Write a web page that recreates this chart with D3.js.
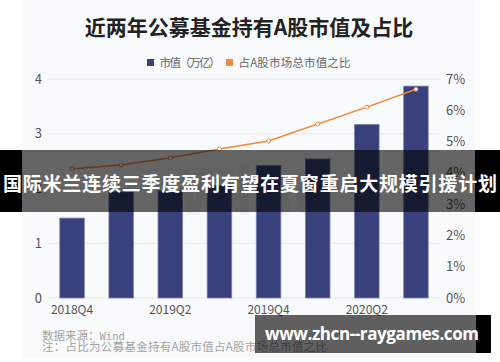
<!DOCTYPE html>
<html>
<head>
<meta charset="utf-8">
<script src="https://cdn.jsdelivr.net/npm/d3@7"></script>
<style>
  body { margin: 0; background: #fff; }
  svg { display: block; font-family: "Noto Sans CJK SC", "Noto Sans", sans-serif; }
</style>
</head>
<body>
<svg id="chart" width="500" height="362"></svg>
<script>
var quarters = ['2018Q4', '2019Q1', '2019Q2', '2019Q3', '2019Q4', '2020Q1', '2020Q2', '2020Q3'];
var marketValue = [1.46, 1.94, 1.96, 2.06, 2.42, 2.54, 3.17, 3.87];   // 万亿
var shareOfA = [4.13, 4.25, 4.48, 4.76, 5.02, 5.56, 6.10, 6.67];      // %
var xTickLabels = ['2018Q4', '2019Q2', '2019Q4', '2020Q2'];
var leftTicks = [0, 1, 2, 3, 4];
var rightTicks = [0, 1, 2, 3, 4, 5, 6, 7];

var svg = d3.select('#chart');

var x = d3.scaleBand().domain(quarters).range([47.5, 440.5])
      .paddingInner(0.5).paddingOuter(0.25)
  , yL = d3.scaleLinear().domain([0, 4]).range([298, 79])
  , yR = d3.scaleLinear().domain([0, 7]).range([298, 79]);

// panel
svg.append('rect')
  .attr('x', 22).attr('y', 0).attr('width', 453).attr('height', 358)
  .attr('fill', '#f9fafc');

// title
svg.append('text')
  .attr('x', 249).attr('y', 35)
  .attr('text-anchor', 'middle')
  .style('font-size', '21px').style('font-weight', 'bold')
  .attr('fill', '#222')
  .text('近两年公募基金持有A股市值及占比');

// legend
var legend = [
  { label: '市值（万亿）', color: '#38417b', x: 147, w: 61 },
  { label: '占A股市场总市值之比', color: '#f5883a', x: 226, w: 112 }
];
var lg = svg.selectAll('g.legend').data(legend)
  .enter().append('g').attr('class', 'legend');
lg.append('rect')
  .attr('x', function(d) { return d.x; }).attr('y', 59)
  .attr('width', 7).attr('height', 7)
  .attr('fill', function(d) { return d.color; });
lg.append('text')
  .attr('x', function(d) { return d.x + 12.5; }).attr('y', 66.5)
  .attr('textLength', function(d) { return d.w; })
  .style('font-size', '11.5px').attr('fill', '#666')
  .text(function(d) { return d.label; });

// faint Wind watermark
svg.append('text')
  .attr('x', 178).attr('y', 215)
  .style('font-size', '62px').style('font-weight', 'bold')
  .attr('fill', '#000').attr('opacity', 0.035)
  .text('Wind');

// grid
svg.selectAll('line.y').data(leftTicks)
  .enter().append('line')
    .attr('class', 'y')
    .attr('x1', 47.5).attr('x2', 440.5)
    .attr('y1', yL).attr('y2', yL)
    .style('stroke', '#e4e7ec');

// axes labels
svg.selectAll('text.yl').data(leftTicks)
  .enter().append('text')
    .attr('class', 'yl')
    .attr('x', 42).attr('y', function(d) { return yL(d) + 4.5; })
    .attr('text-anchor', 'end')
    .style('font-size', '13px').attr('fill', '#555')
    .text(function(d) { return d; });

svg.selectAll('text.yr').data(rightTicks)
  .enter().append('text')
    .attr('class', 'yr')
    .attr('x', 446).attr('y', function(d) { return yR(d) + 4.5; })
    .style('font-size', '13px').attr('fill', '#555')
    .text(function(d) { return d + '%'; });

svg.selectAll('text.xl').data(xTickLabels)
  .enter().append('text')
    .attr('class', 'xl')
    .attr('x', function(d) { return x(d) + x.bandwidth() / 2; })
    .attr('y', 313.5)
    .attr('text-anchor', 'middle')
    .style('font-size', '12px').attr('fill', '#555')
    .text(function(d) { return d; });

// bars
svg.selectAll('rect.bar').data(marketValue)
  .enter().append('rect')
    .attr('class', 'bar')
    .attr('x', function(d, i) { return x(quarters[i]); })
    .attr('y', function(d) { return yL(d); })
    .attr('width', x.bandwidth())
    .attr('height', function(d) { return yL(0) - yL(d); })
    .attr('fill', '#38417b')
    .attr('stroke', '#7d84ad').attr('stroke-width', 0.8);

// line
var line = d3.line()
  .x(function(d, i) { return x(quarters[i]) + x.bandwidth() / 2; })
  .y(function(d) { return yR(d); });

svg.append('path')
  .datum(shareOfA)
  .attr('d', line)
  .attr('fill', 'none')
  .attr('stroke', '#f5883a').attr('stroke-width', 1.5);

svg.selectAll('circle.pt').data(shareOfA)
  .enter().append('circle')
    .attr('class', 'pt')
    .attr('cx', function(d, i) { return x(quarters[i]) + x.bandwidth() / 2; })
    .attr('cy', yR)
    .attr('r', 2)
    .attr('fill', '#fff')
    .attr('stroke', '#f5883a').attr('stroke-width', 1);

// footnotes
svg.append('text')
  .attr('x', 42).attr('y', 339.5)
  .style('font-size', '11.5px').attr('fill', '#a3a3a3')
  .text('数据来源：')
  .append('tspan')
    .style('font-family', '"DejaVu Sans Mono", monospace')
    .style('font-size', '10.5px')
    .text('Wind');

svg.append('text')
  .attr('x', 42).attr('y', 351)
  .attr('textLength', 285)
  .style('font-size', '11.5px').attr('fill', '#a3a3a3')
  .text('注：占比为公募基金持有A股市值占A股市场总市值之比');

// news banner overlay
svg.append('rect')
  .attr('x', 0).attr('y', 150).attr('width', 22).attr('height', 62).attr('fill', '#000');
svg.append('rect')
  .attr('x', 475).attr('y', 150).attr('width', 25).attr('height', 62).attr('fill', '#000');
svg.append('rect')
  .attr('x', 22).attr('y', 150).attr('width', 453).attr('height', 62)
  .attr('fill', '#000').attr('opacity', 0.6);
svg.append('text')
  .attr('x', 250).attr('y', 191)
  .attr('text-anchor', 'middle')
  .attr('textLength', 494)
  .style('font-size', '19px').style('font-weight', 'bold')
  .attr('fill', '#fff')
  .text('国际米兰连续三季度盈利有望在夏窗重启大规模引援计划');

// site watermark
svg.append('rect')
  .attr('x', 255).attr('y', 315).attr('width', 221).attr('height', 38)
  .attr('fill', '#000').attr('opacity', 0.62);
svg.append('rect')
  .attr('x', 476).attr('y', 315).attr('width', 15).attr('height', 38)
  .attr('fill', '#000');
svg.append('text')
  .attr('x', 265).attr('y', 340)
  .attr('textLength', 214)
  .style('font-family', '"Open Sans", "DejaVu Sans", sans-serif')
  .style('font-size', '17px').style('font-weight', 'bold')
  .attr('fill', '#fff')
  .text('www.zhcn--raygames.com');
</script>
</body>
</html>
